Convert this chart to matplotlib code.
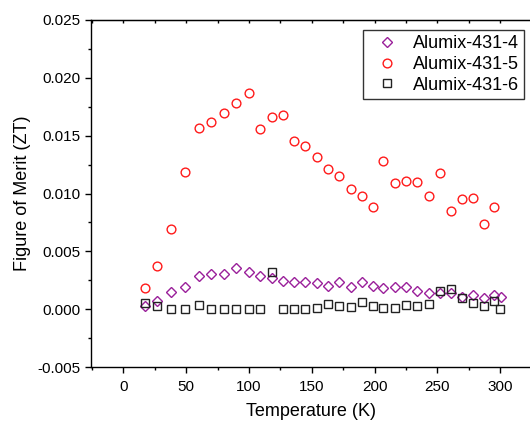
import matplotlib
matplotlib.use("Agg")
import matplotlib.pyplot as plt
from matplotlib.ticker import MultipleLocator, FormatStrFormatter

plt.rcParams['font.family'] = ['Liberation Sans', 'DejaVu Sans']
plt.rcParams['axes.unicode_minus'] = False

# data
temp_4 = [17.5, 27, 38, 49, 60, 70, 80, 90, 100, 109, 118, 127, 136, 145, 154, 163,
          172, 181, 190, 199, 207, 216, 225, 234, 243, 252, 261, 270, 278, 287, 295, 301]
zt_4 = [0.0003, 0.0007, 0.00146, 0.00195, 0.0029, 0.00302, 0.00302, 0.00354, 0.00322, 0.0029,
        0.00272, 0.00244, 0.00235, 0.00233, 0.00231, 0.00203, 0.00233, 0.00189, 0.00233, 0.00203,
        0.00181, 0.00195, 0.00189, 0.00157, 0.00143, 0.00137, 0.00137, 0.00108, 0.00123, 0.00097,
        0.00125, 0.00103]

temp_5 = [17.5, 27, 38, 49, 60, 70, 80, 90, 100, 109, 118, 127, 136, 145, 154, 163,
          172, 181, 190, 199, 207, 216, 225, 234, 243, 252, 261, 270, 278, 287, 295]
zt_5 = [0.00184, 0.00378, 0.00692, 0.01183, 0.01568, 0.01618, 0.01693, 0.01782, 0.01871, 0.01554,
        0.01661, 0.01681, 0.01456, 0.0141, 0.01315, 0.01211, 0.0115, 0.01038, 0.00978, 0.00888,
        0.0128, 0.01087, 0.01107, 0.01096, 0.00978, 0.01176, 0.00845, 0.00949, 0.00958, 0.00741,
        0.00885]

temp_6 = [17.5, 27, 38, 49, 60, 70, 80, 90, 100, 109, 118, 127, 136, 145, 154, 163,
          172, 181, 190, 199, 207, 216, 225, 234, 243, 252, 261, 270, 278, 287, 295, 300]
zt_6 = [0.00051, 0.0003, 0.0, 0.0, 0.00036, 0.0, 0.0, 0.0, 0.0, 0.0, 0.00324, 0.0, 0.0, 0.0,
        0.0001, 0.00042, 0.0003, 0.0002, 0.0006, 0.0003, 0.00013, 0.00013, 0.00036, 0.00028,
        0.00048, 0.00157, 0.00177, 0.001, 0.00056, 0.0003, 0.00071, 0.0]

labels = ['Alumix-431-4', 'Alumix-431-5', 'Alumix-431-6']

fig = plt.figure(figsize=(5.30, 4.21), dpi=100)
ax = fig.add_axes([0.171, 0.128, 0.832, 0.8245])

ax.plot(temp_4, zt_4, ls='none', marker='D', ms=5.2, mfc='none', mec='#9A1F9A', mew=1.0, label=labels[0])
ax.plot(temp_5, zt_5, ls='none', marker='o', ms=6.3, mfc='none', mec='#FF1A1A', mew=1.0, label=labels[1])
ax.plot(temp_6, zt_6, ls='none', marker='s', ms=5.2, mfc='none', mec='#222222', mew=1.0, label=labels[2])

ax.set_xlim(-26, 325)
ax.set_ylim(-0.005, 0.025)
ax.xaxis.set_major_locator(MultipleLocator(50))
ax.xaxis.set_minor_locator(MultipleLocator(25))
ax.yaxis.set_major_locator(MultipleLocator(0.005))
ax.yaxis.set_minor_locator(MultipleLocator(0.0025))
ax.yaxis.set_major_formatter(FormatStrFormatter('%.3f'))

ax.spines['right'].set_visible(False)
for s in ['left', 'bottom', 'top']:
    ax.spines[s].set_linewidth(1.0)
ax.tick_params(which='major', direction='out', length=4, width=1, labelsize=11, pad=3)
ax.tick_params(axis='x', which='major', pad=5)
ax.tick_params(which='minor', direction='out', length=2.5, width=1)

# top axis ticks pointing inward, no labels
top = ax.secondary_xaxis('top')
top.xaxis.set_major_locator(MultipleLocator(25))
top.tick_params(direction='in', length=2.5, width=1, labeltop=False)

ax.set_xlabel('Temperature (K)', fontsize=13, labelpad=6.5)
ax.set_ylabel('Figure of Merit (ZT)', fontsize=13, labelpad=5)

leg = ax.legend(loc='upper right', bbox_to_anchor=(0.983, 0.971), borderaxespad=0,
                fontsize=13, frameon=True, fancybox=False, edgecolor='black',
                handlelength=2.0, handletextpad=0.42, borderpad=0.3, labelspacing=0.2,
                numpoints=1)
leg.get_frame().set_linewidth(1.0)

fig.savefig('out.png', dpi=100)
